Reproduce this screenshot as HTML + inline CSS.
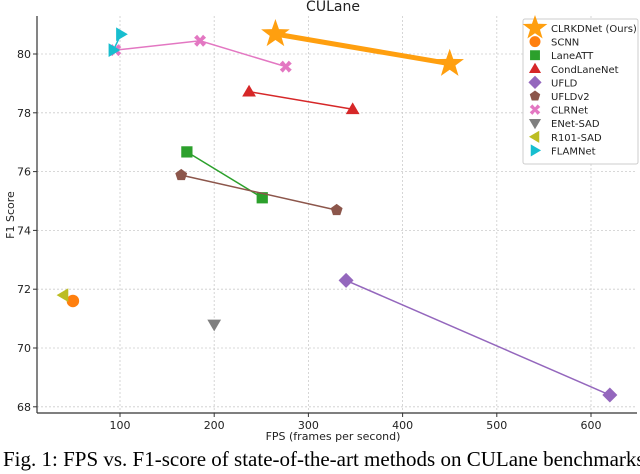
<!DOCTYPE html>
<html><head><meta charset="utf-8">
<style>
html,body{margin:0;padding:0;background:#fff;overflow:hidden;}
svg{display:block;}
text{font-family:"DejaVu Sans","Liberation Sans",sans-serif;}
</style></head>
<body>
<svg id="chart" width="640" height="474" viewBox="0 0 640 474" xmlns="http://www.w3.org/2000/svg">
<g id="grid"></g>
<g id="axes"></g>
<g id="series"></g>
<g id="legend"></g>
<text x="333" y="11" font-size="14" text-anchor="middle" fill="#222">CULane</text>
<text x="333" y="440" font-size="11" text-anchor="middle" fill="#222">FPS (frames per second)</text>
<text transform="translate(14,215) rotate(-90)" font-size="11" text-anchor="middle" fill="#222">F1 Score</text>
<text x="3" y="466" font-size="21" fill="#000" style="font-family:'Liberation Serif',serif">Fig. 1: FPS vs. F1-score of state-of-the-art methods on CULane benchmarks.</text>
</svg>
<script>
const xTicks=[100,200,300,400,500,600];
const yTicks=[68,70,72,74,76,78,80];
const methods=['CLRKDNet (Ours)','SCNN','LaneATT','CondLaneNet','UFLD','UFLDv2','CLRNet','ENet-SAD','R101-SAD','FLAMNet'];
const colors=['#ff9f0f','#ff7f0e','#2ca02c','#d62728','#9467bd','#8c564b','#e377c2','#7f7f7f','#bcbd22','#17becf'];
const shapes=['star','circle','square','triUp','diamond','pentagon','cross','triDown','triLeft','triRight'];
const fpsVals=[[265,450],[50],[171,251],[237,347],[340,620],[165,330],[95,185,276],[200],[40],[93,101]];
const f1Vals=[[80.68,79.67],[71.6],[76.67,75.11],[78.72,78.12],[72.3,68.4],[75.88,74.69],[80.13,80.45,79.57],[70.8],[71.8],[80.13,80.67]];
const NS='http://www.w3.org/2000/svg';
const X=v=>25.8+v*0.942;
const Y=v=>54+(80-v)*29.4;
const L=37,B=413,R=637,T=16;
function mk(tag,attrs,parent){const e=document.createElementNS(NS,tag);for(const k in attrs)e.setAttribute(k,attrs[k]);parent.appendChild(e);return e;}
const grid=document.getElementById('grid'),axes=document.getElementById('axes'),ser=document.getElementById('series'),leg=document.getElementById('legend');
xTicks.forEach(t=>{const l=mk('line',{x1:X(t),x2:X(t),y1:T,y2:B,stroke:'#ccc','stroke-dasharray':'2,2','stroke-width':0.8},grid);

const tk=mk('line',{x1:X(t),x2:X(t),y1:B,y2:B+4,stroke:'#333'},axes);
const tx=mk('text',{x:X(t),y:B+16,'font-size':11,'text-anchor':'middle',fill:'#222'},axes);tx.textContent=t;
});
yTicks.forEach(t=>{const l=mk('line',{x1:L,x2:R,y1:Y(t),y2:Y(t),stroke:'#ccc','stroke-dasharray':'2,2','stroke-width':0.8},grid);

const tk=mk('line',{x1:L-4,x2:L,y1:Y(t),y2:Y(t),stroke:'#333'},axes);
const tx=mk('text',{x:L-6,y:Y(t)+4,'font-size':11,'text-anchor':'end',fill:'#222'},axes);tx.textContent=t;
});
const s1=mk('line',{x1:L,x2:L,y1:T,y2:B,stroke:'#333','stroke-width':1.2},axes);
const s2=mk('line',{x1:L,x2:R,y1:B,y2:B,stroke:'#333','stroke-width':1.2},axes);
function pts(arr){return arr.map(p=>p.join(',')).join(' ');}
function marker(shape,cx,cy,s,color,parent){
 let e;
 if(shape==='circle')e=mk('circle',{cx,cy,r:s*0.5,fill:color},parent);
 else if(shape==='square')e=mk('rect',{x:cx-s*0.45,y:cy-s*0.45,width:s*0.9,height:s*0.9,fill:color},parent);
 else{let p=[];
  if(shape==='star'){for(let i=0;i<10;i++){const a=-Math.PI/2+i*Math.PI/5,r=i%2?s*0.4:s;p.push([cx+r*Math.cos(a),cy+r*Math.sin(a)]);}}
  else if(shape==='pentagon'){for(let i=0;i<5;i++){const a=-Math.PI/2+i*2*Math.PI/5;p.push([cx+s*0.5*Math.cos(a),cy+s*0.5*Math.sin(a)]);}}
  else if(shape==='diamond'){const r=s*0.6;p=[[cx,cy-r],[cx+r,cy],[cx,cy+r],[cx-r,cy]];}
  else if(shape==='triUp'){const r=s*0.55;p=[[cx,cy-r],[cx+r,cy+r*0.7],[cx-r,cy+r*0.7]];}
  else if(shape==='triDown'){const r=s*0.55;p=[[cx,cy+r],[cx+r,cy-r*0.7],[cx-r,cy-r*0.7]];}
  else if(shape==='triLeft'){const r=s*0.55;p=[[cx-r,cy],[cx+r*0.7,cy-r],[cx+r*0.7,cy+r]];}
  else if(shape==='triRight'){const r=s*0.55;p=[[cx+r,cy],[cx-r*0.7,cy-r],[cx-r*0.7,cy+r]];}
  else if(shape==='cross'){const a=s*0.48,b=s*0.2;p=[[-a,-a+b*1.2],[-a+b*1.2,-a],[0,-b],[a-b*1.2,-a],[a,-a+b*1.2],[b,0],[a,a-b*1.2],[a-b*1.2,a],[0,b],[-a+b*1.2,a],[-a,a-b*1.2],[-b,0]].map(q=>[cx+q[0],cy+q[1]]);}
  e=mk('polygon',{points:pts(p),fill:color},parent);}
 return e;}
methods.forEach((m,i)=>{
 const g=mk('g',{},ser);
 const P=fpsVals[i].map((v,j)=>[X(v),Y(f1Vals[i][j])]);
 if(P.length>1){const ln=mk('polyline',{points:pts(P),fill:'none',stroke:colors[i],'stroke-width':i===0?5:1.5},g);
  }
 P.forEach(p=>{const mm=marker(shapes[i],p[0],p[1],i===0?15:12.5,colors[i],g);
  });
});
const box=mk('rect',{x:523,y:19,width:115,height:145,fill:'#fff',stroke:'#ccc','stroke-width':1,rx:2},leg);

methods.forEach((m,i)=>{const y=28+i*13.6;
 const g=mk('g',{},leg);
 marker(shapes[i],535,y,i===0?13:11,colors[i],g);
 const t=mk('text',{x:551,y:y+4,'font-size':10,fill:'#222'},g);t.textContent=m;});
</script>
</body></html>
